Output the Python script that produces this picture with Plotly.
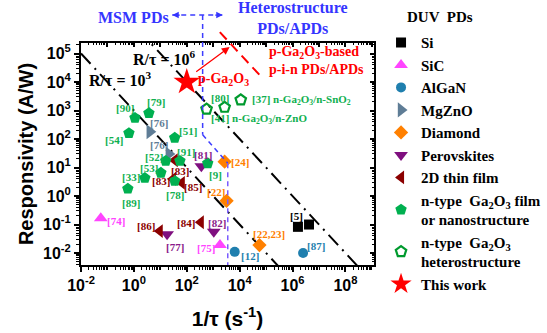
import numpy as np
import plotly.graph_objects as go

# ---------------- data: responsivity (A/W) vs 1/tau (s^-1) ----------------
si_x = [1.6e6, 4.2e6]
si_y = [0.083, 0.10]
si_ref = ["[5]", ""]

sic_x = [0.056, 1800]
sic_y = [0.166, 0.019]
sic_ref = ["[74]", "[75]"]

algan_x = [6500, 2.5e6]
algan_y = [0.011, 0.010]
algan_ref = ["[12]", "[87]"]

mgzno_x = [4.0, 21]
mgzno_y = [180, 30]
mgzno_ref = ["[76]", "[76]"]

diamond_x = [2700, 3200, 56000]
diamond_y = [16, 0.68, 0.019]
diamond_ref = ["[24]", "[22]", "[22,23]"]

perov_x = [355, 1050, 18]
perov_y = [11, 0.056, 0.046]
perov_ref = ["[81]", "[82]", "[77]"]

film2d_x = [35, 30, 65, 340, 9.5]
film2d_y = [18, 4.0, 2.9, 0.12, 0.059]
film2d_ref = ["[83]", "[83]", "[85]", "[84]", "[86]"]

ga2o3_x = [1.1, 3.7, 0.65, 35, 55, 16, 10.5, 2.6, 0.59, 35, 620]
ga2o3_y = [550, 810, 160, 110, 17, 17, 6.5, 4.3, 1.8, 3.4, 14]
ga2o3_ref = ["[90]", "[79]", "[54]", "[51]", "[91]", "[52]", "[53]", "[33]",
             "[89]", "[78]", "[9]"]

hetero_x = [560, 2700, 11000]
hetero_y = [1120, 1300, 2350]
hetero_ref = ["[80]",
              "[41] n-Ga<sub>2</sub>O<sub>3</sub>/n-ZnO",
              "[37] n-Ga<sub>2</sub>O<sub>3</sub>/n-SnO<sub>2</sub>"]

work_x = [100]
work_y = [1.0e4]

rtau_levels = [1e3, 1e6]       # constant R/tau guide lines
rtau_pin = 1e9                 # p-i-n PD/APD boundary

x_ticks = [-2, 0, 2, 4, 6, 8]
y_ticks = [-2, -1, 0, 1, 2, 3, 4, 5]

# ---------------- styling ----------------
SERIF = "Liberation Serif"
SANS = "Liberation Sans"
XR = [-2.0, 9.08]
YR = [-2.42, 5.37]

def ypaper(logy):
    return (logy - YR[0]) / (YR[1] - YR[0])

series = [
    ("Si", si_x, si_y, si_ref, "square", 10, "black", "black",
     [(-1, -11), (0, 0)]),
    ("SiC", sic_x, sic_y, sic_ref, "triangle-up", 12, "#ff44ff", "#ff44ff",
     [(15, 3), (-14, 3)]),
    ("AlGaN", algan_x, algan_y, algan_ref, "circle", 10, "#1f7fae", "#1f7fae",
     [(15, 4), (13, -7)]),
    ("MgZnO", mgzno_x, mgzno_y, mgzno_ref, "triangle-right", 13, "#5f7d96", "#5f7d96",
     [(9, -9), (-10, -9)]),
    ("Diamond", diamond_x, diamond_y, diamond_ref, "diamond", 11, "#ff8000", "#ff8000",
     [(15, 0), (-11, -9), (10, -11)]),
    ("Perovskites", perov_x, perov_y, perov_ref, "triangle-down", 12, "#7f0f7f", "#8a1a8a",
     [(2, -11), (3, -9), (8, 13)]),
    ("2D thin film", film2d_x, film2d_y, film2d_ref, "triangle-left", 12, "#8b0000", "#8b0000",
     [(5, 11), (-12, 2), (11, 4), (-15, 1), (-14, -5)]),
    ("n-type  Ga<sub>2</sub>O<sub>3</sub> film<br>or nanostructure",
     ga2o3_x, ga2o3_y, ga2o3_ref, "pentagon", 12, "#00b050", "#10b050",
     [(-10, -10), (7, -11), (-15, 7), (13, -7), (6, -9), (-12, -4), (-12, -5),
      (-14, -1), (3, 14), (0, 14), (8, 12)]),
]

fig = go.Figure()

# constant R/tau guide lines
xs = np.logspace(XR[0], XR[1] + 0.5, 50)
for k in rtau_levels:
    fig.add_trace(go.Scatter(x=xs, y=k / xs, mode="lines", showlegend=False,
                             line=dict(color="black", width=2, dash="14px,6px,2px,6px"),
                             hoverinfo="skip"))

annotations = []
for name, xv, yv, refs, sym, size, col, lcol, offs in series:
    fig.add_trace(go.Scatter(x=xv, y=yv, mode="markers", name=name,
                             marker=dict(symbol=sym, size=size, color=col,
                                         line=dict(width=0))))
    for x0, y0, r, (dx, dy) in zip(xv, yv, refs, offs):
        if not r:
            continue
        annotations.append(dict(x=np.log10(x0), y=np.log10(y0), xref="x", yref="y",
                                text=r, showarrow=False, xshift=dx, yshift=-dy,
                                xanchor="center", yanchor="middle",
                                font=dict(family=SERIF, size=11, color=lcol, weight="bold")))

# heterostructures (open pentagons)
fig.add_trace(go.Scatter(x=hetero_x, y=hetero_y, mode="markers",
                         name="n-type  Ga<sub>2</sub>O<sub>3</sub><br>heterostructure",
                         marker=dict(symbol="pentagon-open", size=11, color="#009a2e",
                                     line=dict(width=2.2, color="#009a2e"))))
het_pos = [(13, -11, "center"), (-16, 12, "left"), (9, 0, "left")]
for x0, y0, r, (dx, dy, anc) in zip(hetero_x, hetero_y, hetero_ref, het_pos):
    annotations.append(dict(x=np.log10(x0), y=np.log10(y0), xref="x", yref="y",
                            text=r, showarrow=False, xshift=dx, yshift=-dy,
                            xanchor=anc, yanchor="middle",
                            font=dict(family=SERIF, size=11, color="#10b050", weight="bold")))

# this work
fig.add_trace(go.Scatter(x=work_x, y=work_y, mode="markers", name="This work",
                         marker=dict(symbol="star", size=20, color="#ff0000",
                                     line=dict(width=0))))
annotations.append(dict(x=np.log10(work_x[0]), y=np.log10(work_y[0]), xref="x", yref="y",
                        text="p-Ga<sub>2</sub>O<sub>3</sub>", showarrow=False,
                        xanchor="left", yanchor="middle", xshift=9, yshift=3,
                        font=dict(family=SERIF, size=14, color="#ff0000", weight="bold")))

# dummy trace for the inner-tick top/right axes
fig.add_trace(go.Scatter(x=[None], y=[None], xaxis="x2", yaxis="y2", showlegend=False))

head = dict(family=SERIF, size=16, color="#3535ff", weight="bold")
# R/tau labels and region headers
annotations += [
    dict(x=1.17, y=4.84, xref="x", yref="y", text="R/τ = 10<sup>6</sup>", showarrow=False,
         xanchor="center", yanchor="middle",
         font=dict(family=SERIF, size=16, color="black", weight="bold")),
    dict(x=-0.51, y=4.1, xref="x", yref="y", text="R/τ = 10<sup>3</sup>", showarrow=False,
         xanchor="center", yanchor="middle",
         font=dict(family=SERIF, size=16, color="black", weight="bold")),
    dict(x=5.02, y=4.74, xref="x", yref="y", xanchor="left", yanchor="middle", align="left",
         text="p-Ga<sub>2</sub>O<sub>3</sub>-based<br>p-i-n PDs/APDs", showarrow=False,
         font=dict(family=SERIF, size=14, color="#ff0000", weight="bold")),
    # arrow from this work towards the p-i-n region
    dict(x=3.62, y=5.23, xref="x", yref="y", ax=2.3, ay=4.32, axref="x", ayref="y",
         text="", showarrow=True, arrowhead=2, arrowsize=1.2, arrowwidth=1.3,
         arrowcolor="#ff0000"),
    dict(x=0.0, y=1.117, xref="x", yref="paper", text="MSM PDs", showarrow=False,
         xanchor="center", yanchor="middle", font=head),
    dict(x=6.0, y=1.113, xref="x", yref="paper", text="Heterostructure<br>PDs/APDs",
         showarrow=False, xanchor="center", yanchor="middle", font=head),
    dict(x=1.45, y=1.126, xref="x", yref="paper", ax=9, ay=0, text="", showarrow=True,
         arrowhead=2, arrowsize=1, arrowwidth=1.3, arrowcolor="#3535ff"),
    dict(x=3.36, y=1.126, xref="x", yref="paper", ax=-9, ay=0, text="", showarrow=True,
         arrowhead=2, arrowsize=1, arrowwidth=1.3, arrowcolor="#3535ff"),
    # legend header
    dict(x=1.225, y=1.117, xref="paper", yref="paper", text="DUV  PDs", showarrow=False,
         xanchor="center", yanchor="middle",
         font=dict(family=SERIF, size=15, color="black", weight="bold")),
]

blue = "#3d3dff"
dash_b = "5px,4px"
shapes = [
    dict(type="line", xref="x", yref="paper", x0=10**1.45, x1=10**3.36,
         y0=1.126, y1=1.126, line=dict(color=blue, width=1.5, dash=dash_b)),
    dict(type="line", xref="x", yref="paper", x0=10**2.6, x1=10**2.6,
         y0=1.126, y1=ypaper(2.15), line=dict(color=blue, width=1.5, dash=dash_b)),
    dict(type="line", xref="x", yref="paper", x0=10**2.6, x1=10**3.55,
         y0=ypaper(2.15), y1=ypaper(1.15), line=dict(color=blue, width=1.5, dash=dash_b)),
    dict(type="line", xref="x", yref="paper", x0=10**3.55, x1=10**3.55,
         y0=ypaper(1.15), y1=0, line=dict(color="#7a5cff", width=1.5, dash=dash_b)),
    # R/tau = 1e9 boundary of p-i-n devices
    dict(type="line", xref="x", yref="paper",
         x0=rtau_pin / 10**5.75, x1=rtau_pin / 10**4.14,
         y0=ypaper(5.75), y1=ypaper(4.14),
         line=dict(color="#ff0000", width=2, dash="10px,6px")),
]

tick_font = dict(family=SANS, size=16, color="black", weight="bold")
fig.update_layout(
    width=547, height=333,
    margin=dict(l=81, r=173, t=43, b=68, autoexpand=False),
    paper_bgcolor="white", plot_bgcolor="white",
    showlegend=True,
    legend=dict(x=1.024, y=1.076, xanchor="left", yanchor="top", maxheight=330,
                font=dict(family=SERIF, size=15, color="black", weight="bold"),
                tracegroupgap=0, bgcolor="rgba(0,0,0,0)"),
    annotations=annotations,
    shapes=shapes,
    xaxis=dict(type="log", range=XR, showgrid=False, zeroline=False, automargin=False,
               showline=True, linewidth=2, linecolor="black", mirror=True,
               tickmode="array", tickvals=[10**k for k in x_ticks],
               ticktext=[f"10<sup>{k}</sup>" for k in x_ticks],
               ticks="outside", ticklen=5, tickwidth=1.5, tickcolor="black",
               minor=dict(ticks="outside", ticklen=3, tickwidth=1, tickcolor="black",
                          dtick="D1"),
               tickfont=tick_font,
               title=dict(text="1/τ (s<sup>-1</sup>)", standoff=18,
                          font=dict(family=SANS, size=21, color="black", weight="bold"))),
    yaxis=dict(type="log", range=YR, showgrid=False, zeroline=False, automargin=False,
               showline=True, linewidth=2, linecolor="black", mirror=True,
               tickmode="array", tickvals=[10**k for k in y_ticks],
               ticktext=[f"10<sup>{k}</sup>" for k in y_ticks],
               ticks="outside", ticklen=5, tickwidth=1.5, tickcolor="black",
               minor=dict(ticks="outside", ticklen=3, tickwidth=1, tickcolor="black",
                          dtick="D1"),
               tickfont=tick_font,
               title=dict(text="Responsivity (A/W)", standoff=4,
                          font=dict(family=SANS, size=20, color="black", weight="bold"))),
    xaxis2=dict(type="log", range=XR, overlaying="x", side="top", anchor="y2",
                showgrid=False, zeroline=False, showline=False, showticklabels=False,
                tickmode="array", tickvals=[10**k for k in range(-2, 10)],
                ticks="inside", ticklen=4, tickwidth=1.5, tickcolor="black",
                minor=dict(ticks="inside", ticklen=2, tickwidth=1, tickcolor="black",
                           dtick="D1")),
    yaxis2=dict(type="log", range=YR, overlaying="y", side="right", anchor="x2",
                showgrid=False, zeroline=False, showline=False, showticklabels=False,
                tickmode="array", tickvals=[10**k for k in y_ticks],
                ticks="inside", ticklen=4, tickwidth=1.5, tickcolor="black",
                minor=dict(ticks="inside", ticklen=2, tickwidth=1, tickcolor="black",
                           dtick="D1")),
)

fig.write_html("out.html")
